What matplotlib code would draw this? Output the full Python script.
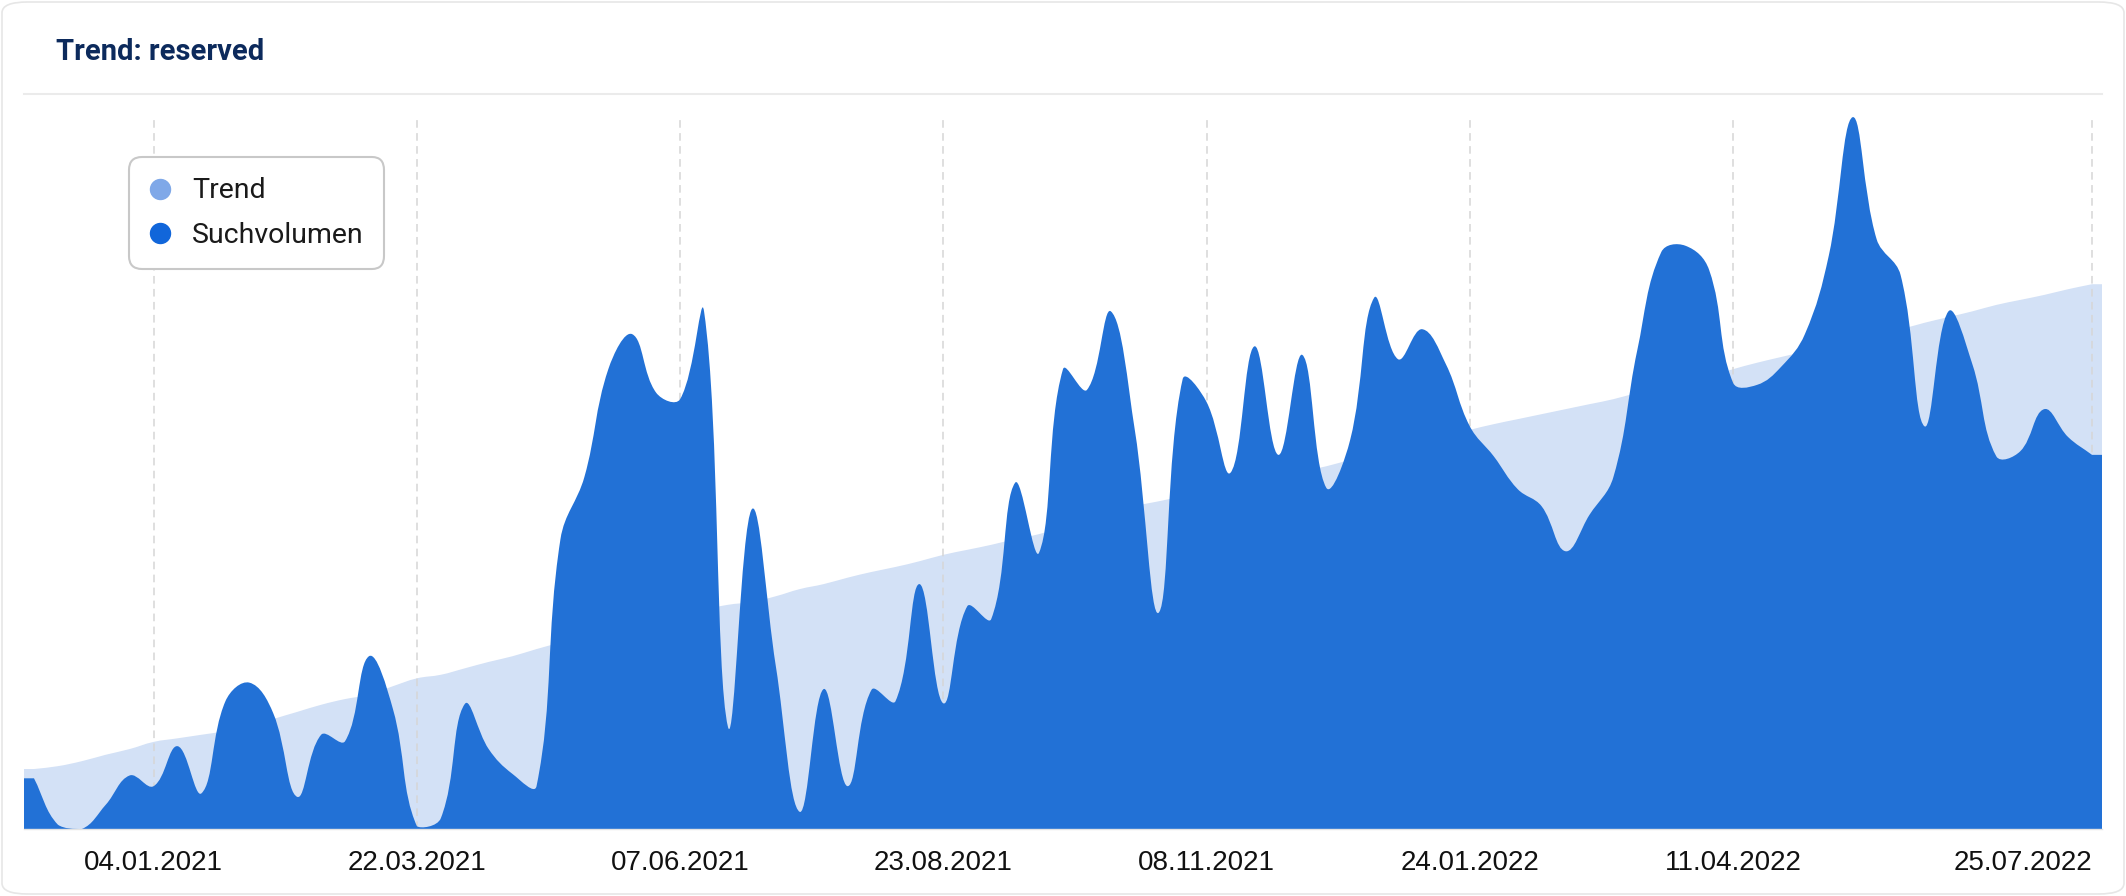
import numpy as np
import pandas as pd
import matplotlib
matplotlib.use('Agg')
from matplotlib import pyplot as plt
from matplotlib.path import Path
from matplotlib.patches import PathPatch, FancyBboxPatch
from matplotlib.lines import Line2D
import matplotlib.dates as mdates

# weekly values, index (max = 100)
weeks = pd.date_range('2020-11-30', periods=87, freq='7D')

suchvolumen = [7.1, 0.6, 0.0, 3.4, 7.5, 6.0, 11.6, 5.0, 17.9, 20.5,
               16.2, 4.5, 13.2, 12.3, 24.2, 16.8, 0.4, 1.5, 17.5, 11.2,
               7.7, 6.0, 40.6, 49.3, 64.4, 69.3, 61.1, 60.2, 72.5, 14.3,
               44.8, 22.8, 2.4, 19.6, 6.0, 19.5, 17.9, 34.3, 17.6, 31.2,
               29.4, 48.5, 38.7, 64.4, 61.5, 72.5, 55.9, 30.3, 63.0, 59.8,
               49.9, 67.6, 52.4, 66.4, 47.8, 54.5, 74.4, 65.8, 70.0, 65.1,
               56.4, 52.2, 47.6, 45.2, 38.9, 44.0, 49.3, 67.1, 80.8, 81.7,
               78.3, 62.5, 62.2, 64.7, 69.3, 80.3, 99.7, 82.6, 77.6, 56.4,
               72.5, 65.1, 52.2, 52.9, 58.8, 54.9, 52.4]

trend = [8.4, 8.8, 9.5, 10.4, 11.2, 12.2, 12.7, 13.2, 13.7, 14.3,
         15.4, 16.4, 17.4, 18.2, 18.8, 20.0, 21.1, 21.6, 22.5, 23.4,
         24.2, 25.2, 26.1, 26.9, 27.6, 28.3, 29.1, 29.8, 30.7, 31.4,
         31.8, 32.6, 33.6, 34.3, 35.2, 36.0, 36.7, 37.5, 38.4, 39.1,
         39.8, 40.6, 41.3, 42.3, 43.3, 44.0, 45.2, 45.9, 46.6, 47.3,
         48.0, 48.7, 49.4, 50.1, 50.8, 51.7, 52.5, 53.4, 54.2, 55.0,
         55.9, 56.7, 57.4, 58.1, 58.8, 59.5, 60.2, 61.1, 61.9, 62.7,
         63.4, 64.4, 65.3, 66.1, 66.9, 67.8, 68.5, 69.3, 70.0, 70.9,
         71.7, 72.5, 73.4, 74.1, 74.8, 75.6, 76.3]

tick_dates = ['2021-01-04', '2021-03-22', '2021-06-07', '2021-08-23',
              '2021-11-08', '2022-01-24', '2022-04-11', '2022-07-25']

W, H = 2126, 896
DARK = '#2271d6'
LIGHT = '#d3e1f6'


def spline_area(ax, x, y, xl, xr, tension=0.4, **kw):
    # smooth area (cubic spline through the points, control points capped to the plot area)
    tr = ax.transData
    pts = tr.transform(np.column_stack([x, y]))
    x0, y0 = tr.transform((xl, 0))
    x1, ytop = tr.transform((xr, ax.get_ylim()[1]))
    n = len(pts)
    cin = np.zeros_like(pts)
    cout = np.zeros_like(pts)
    for i in range(n):
        p = pts[max(i - 1, 0)]
        c = pts[i]
        q = pts[min(i + 1, n - 1)]
        d01 = np.hypot(*(c - p))
        d12 = np.hypot(*(q - c))
        s = d01 + d12
        fa = tension * d01 / s if s else 0
        fb = tension * d12 / s if s else 0
        cin[i] = c - fa * (q - p)
        cout[i] = c + fb * (q - p)
    for cp in (cin, cout):
        cp[:, 1] = np.clip(cp[:, 1], y0, ytop)
        cp[:, 0] = np.clip(cp[:, 0], x0, x1)
    verts = [(x0, y0), (x0, pts[0, 1]), tuple(pts[0])]
    codes = [Path.MOVETO, Path.LINETO, Path.LINETO]
    for i in range(1, n):
        verts += [tuple(cout[i - 1]), tuple(cin[i]), tuple(pts[i])]
        codes += [Path.CURVE4] * 3
    verts += [(x1, pts[-1, 1]), (x1, y0), (x0, y0)]
    codes += [Path.LINETO, Path.LINETO, Path.CLOSEPOLY]
    data = tr.inverted().transform(np.array(verts))
    ax.add_patch(PathPatch(Path(data, codes), **kw))


fig = plt.figure(figsize=(W / 100, H / 100), dpi=100)
fig.patch.set_facecolor('white')

# card border
fig.add_artist(FancyBboxPatch((2 / W, 2 / H), 1 - 4 / W, 1 - 4 / H,
                              boxstyle='round,pad=0,rounding_size=0.012',
                              transform=fig.transFigure, facecolor='none',
                              edgecolor='#e6e6e6', linewidth=1.2))

fig.text(56 / W, 1 - 52 / H, 'Trend: reserved', fontsize=21, fontweight='bold',
         family='Roboto', color='#0c2a5c', va='center', ha='left')
fig.add_artist(Line2D([24 / W, 2102 / W], [1 - 94 / H, 1 - 94 / H],
                      transform=fig.transFigure, color='#ebebeb', lw=1.5))

ax = fig.add_axes([24 / W, (H - 829) / H, 2078 / W, 714 / H])
xd = mdates.date2num(weeks.to_pydatetime())
xl = xd[0] - 2.92
xr = xd[-1] + 2.92
ax.set_xlim(xl, xr)
ax.set_ylim(0, 100)

spline_area(ax, xd, trend, xl, xr, tension=0.4, facecolor=LIGHT, edgecolor='none', zorder=1)
ticks = mdates.date2num(pd.to_datetime(tick_dates).to_pydatetime())
for t in ticks:
    ax.axvline(t, color='#d6d6d6', lw=1.1, linestyle=(0, (5, 3.5)), zorder=1.5)
spline_area(ax, xd, suchvolumen, xl, xr, tension=0.4, facecolor=DARK, edgecolor='none', zorder=2)

ax.set_xticks(ticks)
ax.set_xticklabels(pd.to_datetime(tick_dates).strftime('%d.%m.%Y'),
                   fontsize=20, family='Liberation Sans', color='#111111')
# last label is kept inside the chart
ax.get_xticklabels()[-1].set_horizontalalignment('right')
ax.tick_params(axis='x', length=0, pad=15)
ax.set_yticks([])
for s in ['top', 'left', 'right']:
    ax.spines[s].set_visible(False)
ax.spines['bottom'].set_color('#e3e3e3')
ax.spines['bottom'].set_linewidth(1)
ax.spines['bottom'].set_zorder(3)

handles = [Line2D([], [], ls='', marker='o', markersize=14.4, color='#7fa8e8', label='Trend'),
           Line2D([], [], ls='', marker='o', markersize=14.4, color='#1166da', label='Suchvolumen')]
leg = ax.legend(handles=handles, loc='upper left', bbox_to_anchor=(129 / W, 1 - 157 / H),
                bbox_transform=fig.transFigure, borderaxespad=0, frameon=True, fancybox=True,
                prop={'family': 'Roboto', 'size': 20.5}, handlelength=0.75, handletextpad=0.75,
                borderpad=0.72, labelspacing=0.6, labelcolor='#1a1a1a', framealpha=1)
frame = leg.get_frame()
frame.set_edgecolor('#c8c8c8')
frame.set_linewidth(1.5)
frame.set_boxstyle('round', pad=0, rounding_size=0.45)
leg.set_zorder(5)

plt.savefig('out.png', dpi=100)
